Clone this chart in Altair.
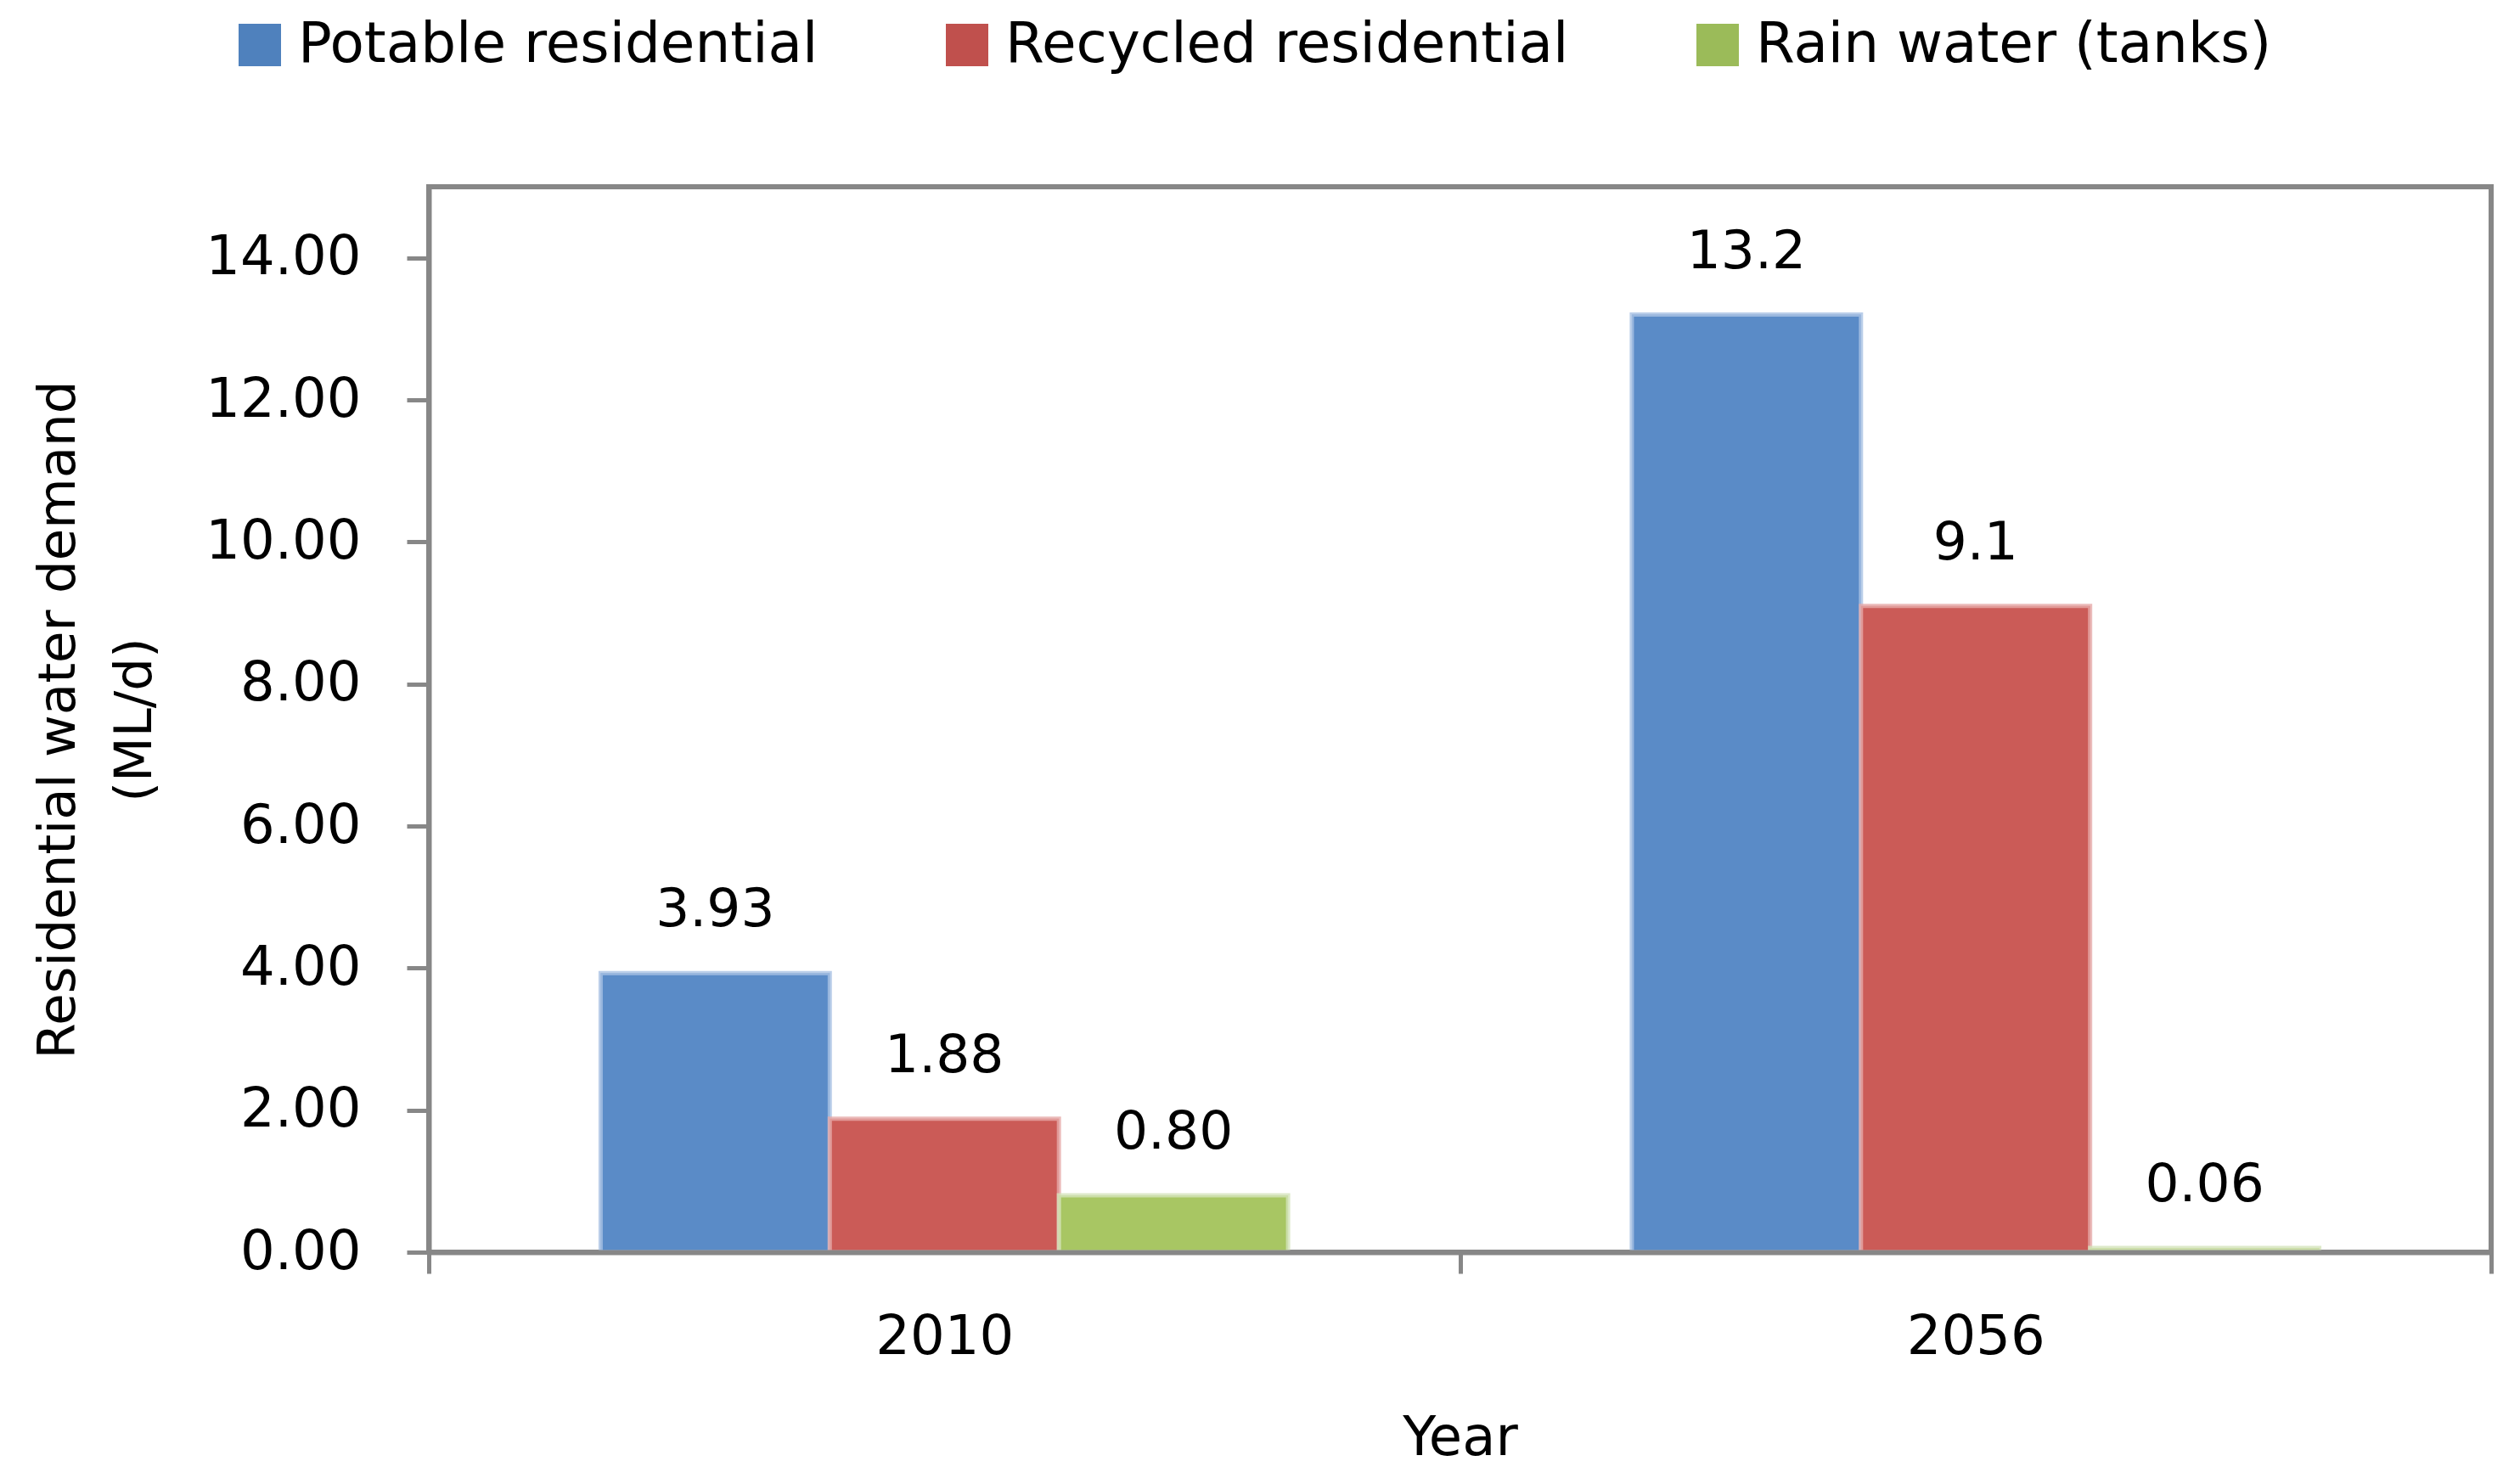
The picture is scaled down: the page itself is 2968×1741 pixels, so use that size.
import altair as alt
import pandas as pd

# ---- data ----
years = ["2010", "2056"]
series = ["Potable residential", "Recycled residential", "Rain water (tanks)"]
potable = [3.93, 13.2]
recycled = [1.88, 9.1]
rain = [0.80, 0.06]
potable_labels = ["3.93", "13.2"]
recycled_labels = ["1.88", "9.1"]
rain_labels = ["0.80", "0.06"]
y_ticks = [0, 2, 4, 6, 8, 10, 12, 14]

legend_colors = ["#4F81BD", "#C0504D", "#9BBB59"]
bar_colors = ["#5A8BC7", "#CB5B57", "#A8C663"]
edge_colors = ["#A9C2E3", "#E6AAA9", "#D5E4BB"]

rows = []
for s, vals, labs in zip(series, [potable, recycled, rain],
                         [potable_labels, recycled_labels, rain_labels]):
    for yr, v, lab in zip(years, vals, labs):
        rows.append({"Year": yr, "Series": s, "Value": v, "Label": lab})
df = pd.DataFrame(rows)

FONT = "DejaVu Sans"
GRAY = "#878787"

x = alt.X(
    "Year:N", sort=years,
    scale=alt.Scale(paddingInner=0, paddingOuter=0),
    axis=alt.Axis(
        title="Year", labelAngle=0, labelFont=FONT, labelFontSize=64,
        labelColor="black", labelPadding=43, tickBand="extent",
        tickSize=25, tickWidth=5, tickColor=GRAY, domainColor=GRAY,
        domainWidth=6, titleFont=FONT, titleFontSize=64,
        titleFontWeight="normal", titleColor="black", titlePadding=55,
        zindex=1,
    ),
)
xo = alt.XOffset("Series:N", sort=series,
                 scale=alt.Scale(paddingInner=0, paddingOuter=0.75))
y = alt.Y(
    "Value:Q",
    scale=alt.Scale(domain=[0, 15], nice=False),
    axis=alt.Axis(
        title=["Residential water demand", "(ML/d)"], values=y_ticks,
        format=".2f", grid=False, labelFont=FONT, labelFontSize=64,
        labelColor="black", labelPadding=54, labelLimit=1000, tickSize=26,
        tickWidth=5, tickColor=GRAY, domainColor=GRAY, domainWidth=6,
        titleFont=FONT, titleFontSize=61, titleFontWeight="normal",
        titleColor="black", titlePadding=115, titleLineHeight=90, zindex=1,
    ),
)

base = alt.Chart(df)

legend_layer = base.mark_bar().encode(
    x=x, xOffset=xo, y=y,
    color=alt.Color(
        "Series:N", sort=series,
        scale=alt.Scale(domain=series, range=legend_colors),
        legend=alt.Legend(
            title=None, orient="none", legendX=-232, legendY=-200,
            direction="horizontal", symbolType="square", symbolSize=2500,
            symbolStrokeWidth=0, symbolOpacity=1, labelFont=FONT,
            labelFontSize=66, labelColor="black", labelOffset=12,
            columnPadding=142, padding=0, labelLimit=1000,
        ),
    ),
)

fill_layer = base.mark_bar(strokeWidth=5, strokeOpacity=0.8).encode(
    x=x, xOffset=xo, y=y,
    fill=alt.Fill("Series:N", sort=series,
                  scale=alt.Scale(domain=series, range=bar_colors),
                  legend=None),
    stroke=alt.Stroke("Series:N", sort=series,
                      scale=alt.Scale(domain=series, range=edge_colors),
                      legend=None),
)

text_layer = base.mark_text(
    font=FONT, fontSize=63, baseline="alphabetic", dy=-55, color="black"
).encode(x=x, xOffset=xo, y=y, text="Label:N")

chart = (
    alt.layer(legend_layer, fill_layer, text_layer)
    .properties(
        width=2429, height=1255, autosize=alt.AutoSizeParams(type="none"),
        padding={"left": 497, "top": 212, "right": 26, "bottom": 258},
        background="white",
    )
    .configure_view(stroke=GRAY, strokeWidth=6)
)

chart.save("out.html", embed_options={"renderer": "svg", "actions": False})
